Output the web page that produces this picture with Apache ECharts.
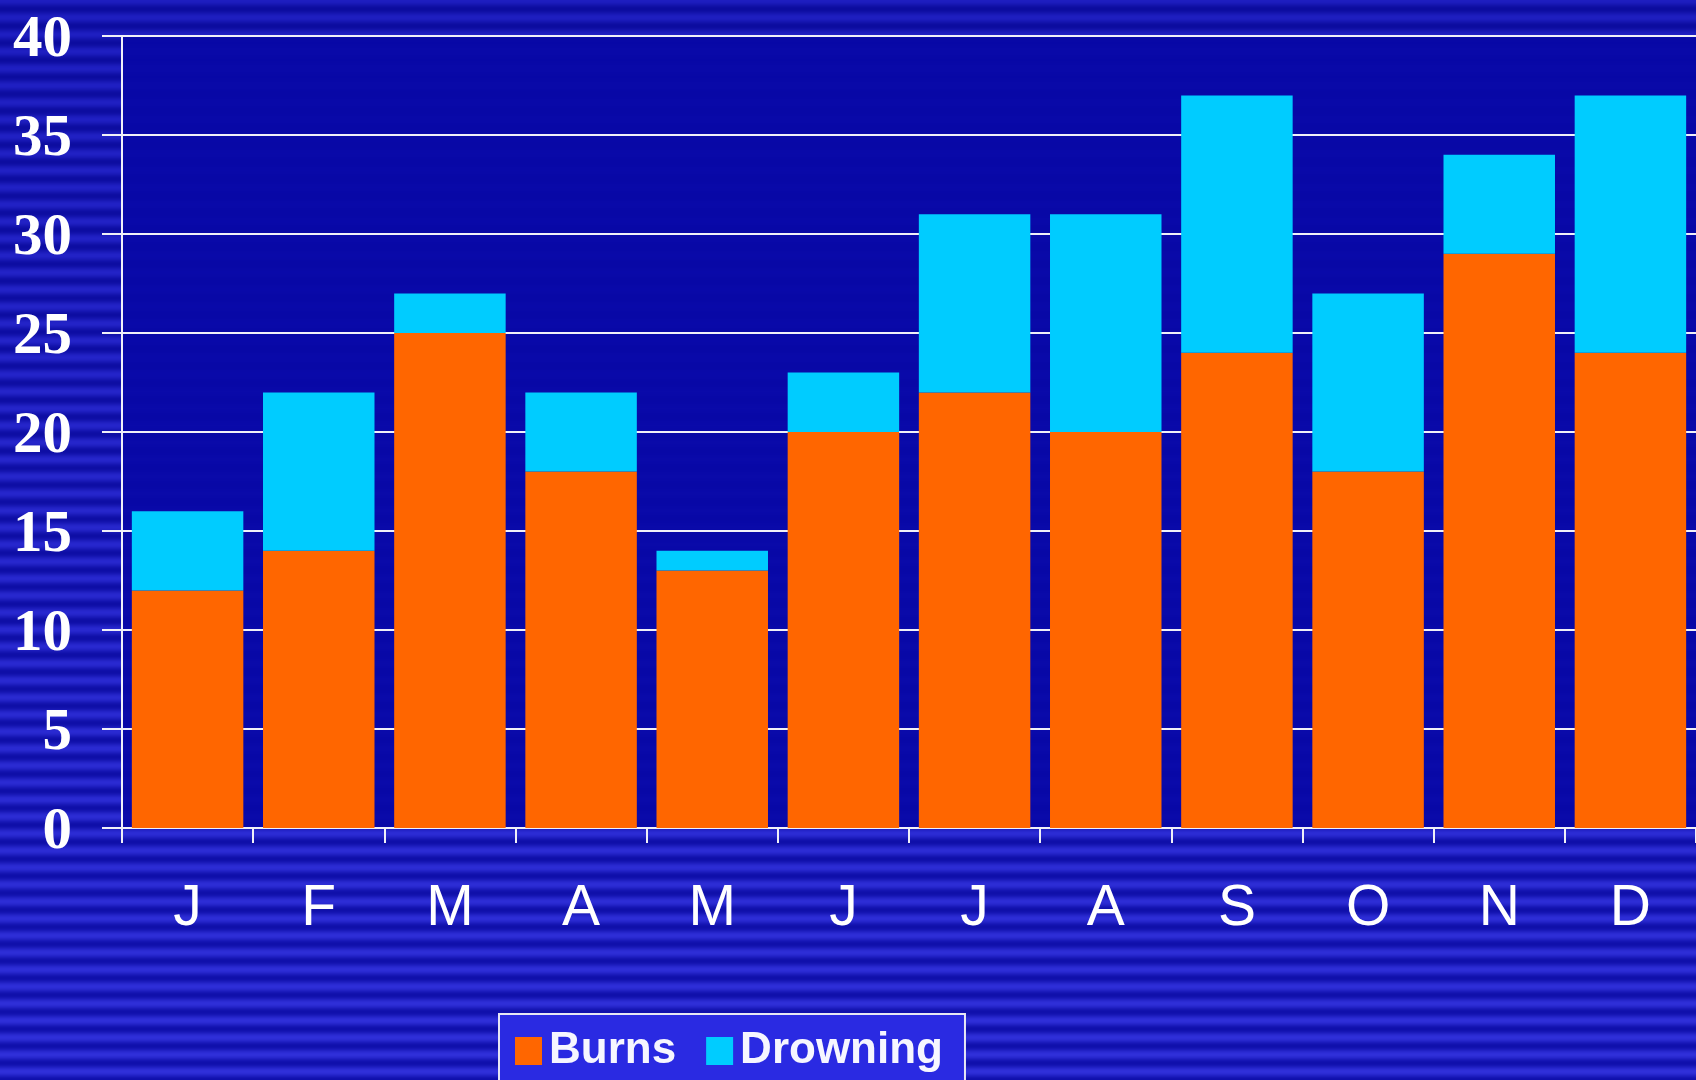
<!DOCTYPE html>
<html>
<head>
<meta charset="utf-8">
<script src="https://cdn.jsdelivr.net/npm/echarts@6/dist/echarts.min.js"></script>
<style>
  html, body { margin: 0; padding: 0; }
  #chart { width: 1696px; height: 1080px; }
</style>
</head>
<body>
<div id="chart"></div>
<script>
  // months and values
  var months = ['J', 'F', 'M', 'A', 'M', 'J', 'J', 'A', 'S', 'O', 'N', 'D'];
  var burns = [12, 14, 25, 18, 13, 20, 22, 20, 24, 18, 29, 24];
  var drowning = [4, 8, 2, 4, 1, 3, 9, 11, 13, 9, 5, 13];
  var yTicks = [0, 5, 10, 15, 20, 25, 30, 35, 40];

  // striped slide background (horizontal bands, a bit lighter toward the bottom)
  function stripes() {
    var c = document.createElement('canvas');
    c.width = 8;
    c.height = 1080;
    var ctx = c.getContext('2d');
    for (var y = 0; y < 1080; y++) {
      var t = y / 1080;
      var s = 0.5 + 0.5 * Math.cos(((y % 17) / 17) * 2 * Math.PI);
      var dark = [12 + 4 * t, 12 + 4 * t, 158 + 14 * t];
      var light = [30 + 18 * t, 30 + 18 * t, 192 + 26 * t];
      var r = Math.round(dark[0] + (light[0] - dark[0]) * s);
      var g = Math.round(dark[1] + (light[1] - dark[1]) * s);
      var b = Math.round(dark[2] + (light[2] - dark[2]) * s);
      ctx.fillStyle = 'rgb(' + r + ',' + g + ',' + b + ')';
      ctx.fillRect(0, y, 8, 1);
    }
    return c;
  }

  var chart = echarts.init(document.getElementById('chart'));
  var option = {
    animation: false,
    backgroundColor: { image: stripes(), repeat: 'repeat' },
    grid: {
      left: 122,
      top: 36,
      right: -5,
      bottom: 252,
      show: true,
      borderWidth: 0,
      backgroundColor: 'rgba(8,8,166,0.92)'
    },
    legend: {
      left: 499,
      top: 1014,
      padding: [15, 22, 30, 16],
      backgroundColor: '#2a2ae2',
      borderColor: '#e6e6f4',
      borderWidth: 2,
      borderRadius: 0,
      itemGap: 30,
      itemWidth: 27,
      itemHeight: 28,
      icon: 'rect',
      textStyle: {
        color: '#f6f6ff',
        fontFamily: 'Liberation Sans',
        fontWeight: 'bold',
        fontSize: 44,
        padding: [0, 0, 0, 2]
      },
      data: ['Burns', 'Drowning']
    },
    xAxis: {
      type: 'category',
      data: months,
      boundaryGap: true,
      axisLine: { show: true, lineStyle: { color: '#f0f0f8', width: 2 } },
      axisTick: { show: true, inside: false, length: 15, lineStyle: { color: '#f0f0f8', width: 2 } },
      axisLabel: {
        color: '#ffffff',
        fontFamily: 'Liberation Sans',
        fontSize: 57,
        margin: 53
      },
      splitLine: { show: false }
    },
    yAxis: {
      type: 'value',
      min: yTicks[0],
      max: yTicks[yTicks.length - 1],
      interval: 5,
      axisLine: { show: true, lineStyle: { color: '#f0f0f8', width: 2 } },
      axisTick: { show: true, inside: false, length: 20, lineStyle: { color: '#f0f0f8', width: 2 } },
      axisLabel: {
        color: '#ffffff',
        fontFamily: 'Liberation Serif',
        fontWeight: 'bold',
        fontSize: 59,
        margin: 50,
        verticalAlign: 'top',
        lineHeight: 10
      },
      splitLine: { show: true, lineStyle: { color: '#f0f0f8', width: 2 } }
    },
    series: [
      {
        name: 'Burns',
        type: 'bar',
        stack: 'total',
        barCategoryGap: '15%',
        itemStyle: { color: '#ff6600' },
        data: burns
      },
      {
        name: 'Drowning',
        type: 'bar',
        stack: 'total',
        barCategoryGap: '15%',
        itemStyle: { color: '#00ccff' },
        data: drowning
      }
    ]
  };
  chart.setOption(option);
</script>
</body>
</html>
